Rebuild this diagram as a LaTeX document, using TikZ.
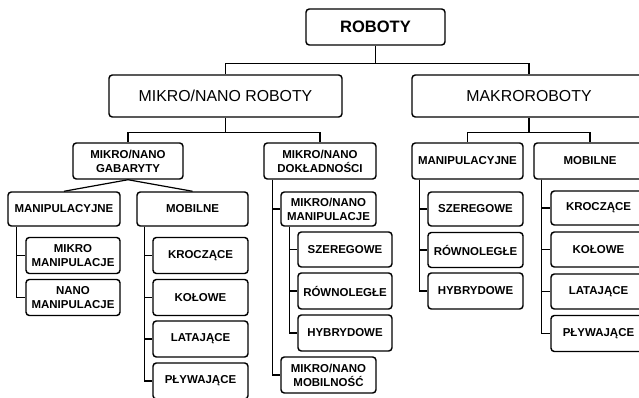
\documentclass[tikz,border=0pt]{standalone}
\usepackage{fontspec}
\setmainfont{Liberation Sans}
\begin{document}
\begin{tikzpicture}[x=0.75pt,y=-0.75pt,
  box/.style={draw=black, line width=1.1pt, rounded corners=2.5pt, fill=white, inner sep=1pt, align=center},
  sz/.style 2 args={minimum width=#1*0.75pt, minimum height=#2*0.75pt},
  big/.style={font=\fontsize{11.9}{14}\selectfont},
  top/.style={font=\fontsize{12.4}{14}\selectfont\bfseries},
  small/.style={font=\fontsize{8.6}{10.5}\selectfont\bfseries},
  conn/.style={line width=0.9pt}]
\clip (0,0) rectangle (639,397);
\fill[white] (0,0) rectangle (639,397);
% level 0/1
\node[box, top, sz={139}{36}] (rob) at (375.5,27) {ROBOTY};
\node[box, big, sz={233}{42}] (mn) at (225.5,96) {MIKRO/NANO ROBOTY};
\node[box, big, sz={234}{42}] (mk) at (529,96) {MAKROROBOTY};
% level 2
\node[box, small, sz={110}{36}] (gab) at (128,161) {MIKRO/NANO\\GABARYTY};
\node[box, small, sz={112}{36}] (dok) at (320,161) {MIKRO/NANO\\DOKŁADNOŚCI};
\node[box, small, sz={111}{36}] (mman) at (467.5,161) {MANIPULACYJNE};
\node[box, small, sz={112}{36}] (mmob) at (590,161) {MOBILNE};
% gabaryty
\node[box, small, sz={112}{34}] (gman) at (64,209) {MANIPULACYJNE};
\node[box, small, sz={111}{34}] (gmob) at (192.5,209) {MOBILNE};
\node[box, small, sz={94}{36}] (mikm) at (73,255.5) {MIKRO\\MANIPULACJE};
\node[box, small, sz={94}{36}] (nanm) at (73,297.5) {NANO\\MANIPULACJE};
\node[box, small, sz={95}{36}] (gk) at (200.5,255.5) {KROCZĄCE};
\node[box, small, sz={95}{36}] (gko) at (200.5,297.5) {KOŁOWE};
\node[box, small, sz={95}{36}] (gl) at (200.5,339) {LATAJĄCE};
\node[box, small, sz={95}{36}] (gp) at (200.5,381) {PŁYWAJĄCE};
% dokladnosci
\node[box, small, sz={95}{34}] (dman) at (328.5,209) {MIKRO/NANO\\MANIPULACJE};
\node[box, small, sz={94}{35}] (ds) at (345,249.5) {SZEREGOWE};
\node[box, small, sz={94}{36}] (dr) at (345,291) {RÓWNOLEGŁE};
\node[box, small, sz={94}{36}] (dh) at (345,333) {HYBRYDOWE};
\node[box, small, sz={95}{36}] (dmob) at (328.5,375) {MIKRO/NANO\\MOBILNOŚĆ};
% makro manipulacyjne
\node[box, small, sz={95}{34}] (ms) at (475.5,209) {SZEREGOWE};
\node[box, small, sz={95}{35}] (mr) at (475.5,250) {RÓWNOLEGŁE};
\node[box, small, sz={95}{36}] (mh) at (475.5,291) {HYBRYDOWE};
% makro mobilne
\node[box, small, sz={95}{34}] (mk1) at (598.5,208) {KROCZĄCE};
\node[box, small, sz={95}{35}] (mk2) at (598.5,249.5) {KOŁOWE};
\node[box, small, sz={95}{35}] (mk3) at (598.5,291.5) {LATAJĄCE};
\node[box, small, sz={95}{36}] (mk4) at (598.5,333.5) {PŁYWAJĄCE};
% connectors
\draw[conn] (rob.south) -- ++(0,18) coordinate (r1) -| (mn.north);
\draw[conn] (r1) -| (mk.north);
\draw[conn] (mn.south) -- ++(0,15) coordinate (m1) -| (gab.north);
\draw[conn] (m1) -| (dok.north);
\draw[conn] (mk.south) -- ++(0,15) coordinate (k1) -| (mman.north);
\draw[conn] (k1) -| (mmob.north);
\draw[conn] (gab.south) -- (gman.north);
\draw[conn] (gab.south) -- (gmob.north);
\draw[conn] (gman.south west) ++(9,0) |- (mikm.west);
\draw[conn] (gman.south west) ++(9,0) |- (nanm.west);
\foreach \c in {gk,gko,gl,gp} \draw[conn] (gmob.south west) ++(8,0) |- (\c.west);
\foreach \c in {dman,dmob} \draw[conn] (dok.south west) ++(9,0) |- (\c.west);
\foreach \c in {ds,dr,dh} \draw[conn] (dman.south west) ++(9,0) |- (\c.west);
\foreach \c in {ms,mr,mh} \draw[conn] (mman.south west) ++(8,0) |- (\c.west);
\foreach \c in {mk1,mk2,mk3,mk4} \draw[conn] (mmob.south west) ++(8,0) |- (\c.west);
\end{tikzpicture}
\end{document}
